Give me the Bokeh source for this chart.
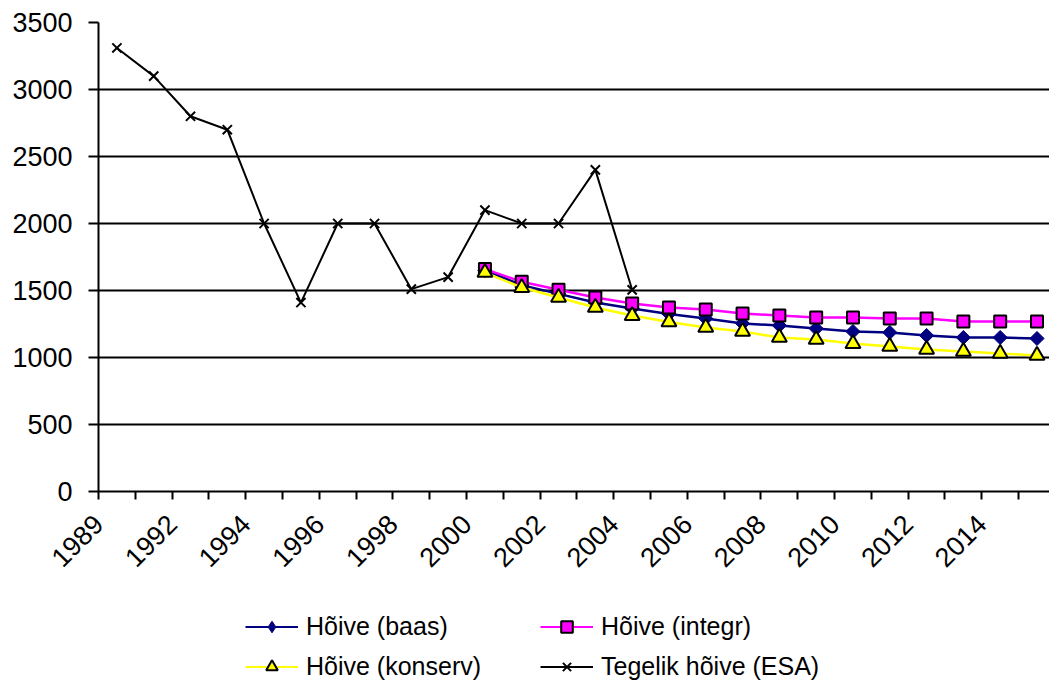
import math
from bokeh.plotting import figure
from bokeh.layouts import column
from bokeh.models import Range1d, FixedTicker, Legend, LegendItem
from bokeh.embed import file_html
from bokeh.resources import INLINE

# ---- data ----
esa_years = [1990, 1991, 1992, 1993, 1994, 1995, 1996, 1997, 1998, 1999,
             2000, 2001, 2002, 2003, 2004]
esa_values = [3310, 3100, 2800, 2700, 2000, 1410, 2000, 2000, 1510, 1600,
              2100, 2000, 2000, 2400, 1505]

proj_years = list(range(2000, 2016))
baas = [1650, 1540, 1475, 1410, 1366, 1325, 1291, 1254, 1239, 1216,
        1194, 1187, 1164, 1149, 1149, 1142]
integr = [1660, 1565, 1505, 1448, 1403, 1373, 1358, 1328, 1313, 1299,
          1299, 1291, 1291, 1269, 1269, 1269]
konserv = [1634, 1522, 1448, 1373, 1313, 1265, 1224, 1194, 1149, 1134,
           1104, 1082, 1060, 1045, 1030, 1015]

first_year = 1990
tick_labels = ["1989", "1992", "1994", "1996", "1998", "2000", "2002",
               "2004", "2006", "2008", "2010", "2012", "2014"]
y_ticks = [0, 500, 1000, 1500, 2000, 2500, 3000, 3500]

names = ["Hõive (baas)", "Hõive (integr)", "Hõive (konserv)", "Tegelik hõive (ESA)"]

FONT = "Liberation Sans"

# series styles
styles = [
    dict(line_color="#000080", marker="square", angle=math.pi / 4, size=10,
         fill_color="#000080", mline="#000080", mwidth=1,
         leg_marker="diamond", leg_size=13),
    dict(line_color="#FF00FF", marker="square", angle=0, size=12,
         fill_color="#FF00FF", mline="black", mwidth=2,
         leg_marker="square", leg_size=10),
    dict(line_color="#FFFF00", marker="triangle", angle=0, size=15,
         fill_color="#FFFF00", mline="black", mwidth=2,
         leg_marker="triangle", leg_size=12),
    dict(line_color="black", marker="x", angle=0, size=13,
         fill_color=None, mline="black", mwidth=2,
         leg_marker="x", leg_size=10),
]
line_widths = [2.5, 2.5, 2.5, 2]


def xpos(years):
    return [y - first_year + 0.5 for y in years]


p = figure(frame_width=951, frame_height=469, output_backend="svg",
           toolbar_location=None,
           x_range=Range1d(0, 25.84), y_range=Range1d(0, 3500),
           min_border_left=98, min_border_right=0, min_border_top=22,
           min_border_bottom=96)
p.outline_line_color = None
p.background_fill_color = "white"
p.border_fill_color = "white"

# axes
p.xaxis.ticker = FixedTicker(ticks=list(range(0, 26)))
overrides = {i: "" for i in range(0, 26)}
for k, lab in enumerate(tick_labels):
    overrides[2 * k] = lab
p.xaxis.major_label_overrides = overrides
p.xaxis.major_label_orientation = math.pi / 4
p.xaxis.major_tick_out = 8
p.xaxis.major_tick_in = 0
p.xaxis.minor_tick_line_color = None
p.xaxis.major_label_text_font = FONT
p.xaxis.major_label_text_font_size = "27px"
p.xaxis.major_label_text_color = "black"
p.xaxis.major_label_standoff = 20

p.yaxis.ticker = FixedTicker(ticks=y_ticks)
p.yaxis.major_tick_out = 10
p.yaxis.major_tick_in = 0
p.yaxis.minor_tick_line_color = None
p.yaxis.major_label_text_font = FONT
p.yaxis.major_label_text_font_size = "27px"
p.yaxis.major_label_text_color = "black"
p.yaxis.major_label_standoff = 16

for ax in (p.xaxis, p.yaxis):
    ax.axis_line_color = "black"
    ax.axis_line_width = 2
    ax.major_tick_line_color = "black"
    ax.major_tick_line_width = 2

p.xgrid.grid_line_color = None
p.ygrid.grid_line_color = "black"
p.ygrid.grid_line_width = 2
p.ygrid.ticker = FixedTicker(ticks=y_ticks)

# data series
x_esa = xpos(esa_years)
x_proj = xpos(proj_years)
series = [(x_proj, baas), (x_proj, integr), (x_proj, konserv), (x_esa, esa_values)]

for (xs, ys), st, lw in zip(series, styles, line_widths):
    p.line(xs, ys, line_color=st["line_color"], line_width=lw)
    p.scatter(xs, ys, marker=st["marker"], angle=st["angle"], size=st["size"],
              fill_color=st["fill_color"], line_color=st["mline"],
              line_width=st["mwidth"])

# legend strip: a second figure whose ranges keep the (same) series out of
# view, so only its legend is visible below the chart
q = figure(width=1049, height=94, output_backend="svg", toolbar_location=None,
           x_range=Range1d(0, 1), y_range=Range1d(0, 1),
           min_border_left=0, min_border_right=0, min_border_top=0,
           min_border_bottom=0)
q.axis.visible = False
q.grid.grid_line_color = None
q.outline_line_color = None
q.background_fill_color = "white"
q.border_fill_color = "white"

items = []
for name, (xs, ys), st, lw in zip(names, series, styles, line_widths):
    lr = q.line(xs, ys, line_color=st["line_color"], line_width=2)
    mr = q.scatter(xs, ys, marker=st["leg_marker"], size=st["leg_size"],
                   fill_color=st["fill_color"], line_color=st["mline"],
                   line_width=st["mwidth"])
    items.append(LegendItem(label=name, renderers=[lr, mr]))

legend = Legend(items=items, orientation="horizontal", ncols=2,
                location=(147, 0))
legend.label_text_font = FONT
legend.label_text_font_size = "25px"
legend.label_text_color = "black"
legend.glyph_width = 53
legend.glyph_height = 29
legend.label_height = 29
legend.label_width = 223
legend.label_standoff = 8
legend.spacing = 11
legend.padding = 0
legend.margin = 0
legend.border_line_color = None
legend.background_fill_alpha = 0
q.add_layout(legend, "center")

layout = column(p, q, spacing=0)
open("out.html", "w").write(file_html(layout, INLINE))
